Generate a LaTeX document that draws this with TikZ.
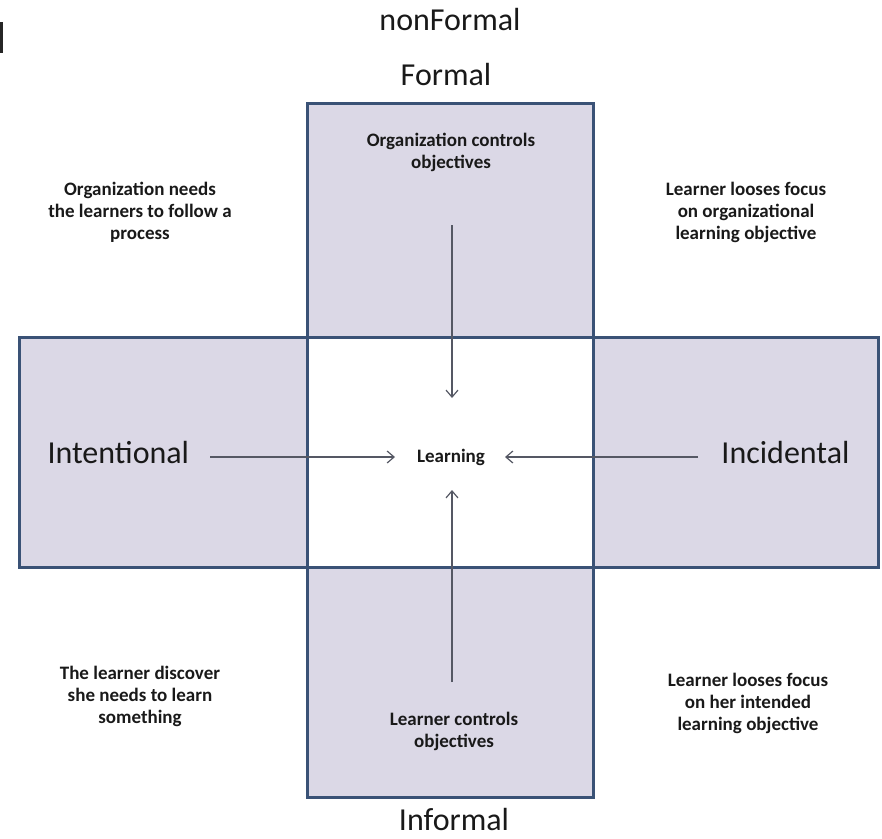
\documentclass[tikz,border=0pt]{standalone}
\usepackage{fontspec}
\setmainfont{Carlito}
\usetikzlibrary{arrows.meta}
\definecolor{crossfill}{RGB}{219,216,230}
\definecolor{crossline}{RGB}{58,82,118}
\definecolor{arrowgray}{RGB}{85,88,100}
\begin{document}
\begin{tikzpicture}[x=1pt, y=-1pt,
  big/.style={font=\fontsize{32}{36}\selectfont, text=black!90},
  note/.style={font=\fontsize{19}{22}\selectfont\bfseries, align=center, text=black!90},
  arr/.style={draw=arrowgray, line width=1.2pt, -{Straight Barb[length=7pt,width=12pt]}},
  arm/.style={line width=3pt, draw=crossline, fill=crossfill}]

\useasboundingbox (0,0) rectangle (882,838); %% page size

\fill[black!85] (0,22) rectangle (2.5,53); %% edge mark

%% the cross
\draw[arm] (19,337) rectangle (878,567);
\draw[arm] (307,103) rectangle (593,337);
\draw[arm] (307,567) rectangle (593,797);
\draw[arm, fill=white] (307,337) rectangle (593,567);

%% axis labels
\node[big] (nfrm) at (450,20) {nonFormal};
\node[big] (frm) at (446,75) {Formal};
\node[big] (infrm) at (454,819) {Informal};
\node[big, anchor=west] (intl) at (44,452) {Intentional};
\node[big, anchor=east] (incl) at (853,452) {Incidental};

\node[note, anchor=base] (lrn) at (451,462) {Learning};
\node[note] (orgctl) at (451,152) {Organization controls\\objectives};
\node[note] (lrnctl) at (454,731) {Learner controls\\objectives};

%% corner notes
\node[note] (tlnote) at (140,212) {Organization needs\\the learners to follow a\\process};
\node[note] (trnote) at (746,212) {Learner looses focus\\on organizational\\learning objective};
\node[note] (blnote) at (140,696) {The learner discover\\she needs to learn\\something};
\node[note] (brnote) at (748,703) {Learner looses focus\\on her intended\\learning objective};

%% arrows into the middle
\coordinate (tTop) at (452,225); \coordinate (hTop) at (452,398);
\coordinate (tLft) at (210,457); \coordinate (hLft) at (395,457);
\coordinate (tRgt) at (698,457); \coordinate (hRgt) at (505,457);
\coordinate (tBot) at (452,682); \coordinate (hBot) at (452,490);

\draw[arr] (tTop) -- (hTop);
\draw[arr] (tLft) -- (hLft);
\draw[arr] (tRgt) -- (hRgt);
\draw[arr] (tBot) -- (hBot);

\end{tikzpicture}
\end{document}
